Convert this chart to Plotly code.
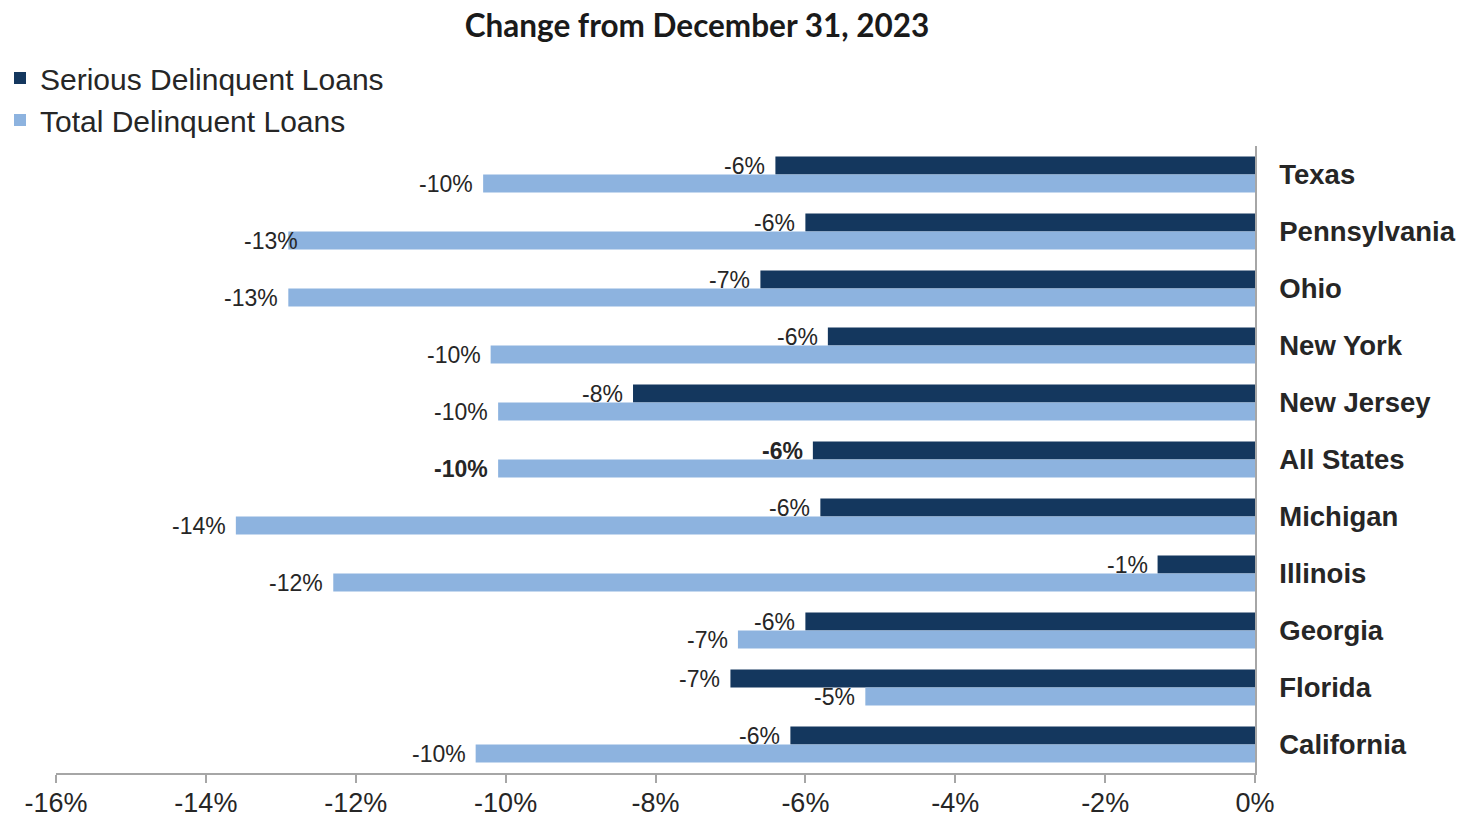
import plotly.graph_objects as go

# Percent change from December 31, 2023, by state
states = ["Texas", "Pennsylvania", "Ohio", "New York", "New Jersey", "All States",
          "Michigan", "Illinois", "Georgia", "Florida", "California"]
serious_delinquent = [-6.4, -6.0, -6.6, -5.7, -8.3, -5.9, -5.8, -1.3, -6.0, -7.0, -6.2]
total_delinquent = [-10.3, -12.9, -12.9, -10.2, -10.1, -10.1, -13.6, -12.3, -6.9, -5.2, -10.4]
x_ticks = [-16, -14, -12, -10, -8, -6, -4, -2, 0]
x_tick_labels = ["-16%", "-14%", "-12%", "-10%", "-8%", "-6%", "-4%", "-2%", "0%"]

DARK = "#14375E"
LIGHT = "#8DB3DF"
TEXT = "#262626"
AXIS = "#A6A6A6"
FONT = "Liberation Sans, Arial, sans-serif"

fig = go.Figure()
fig.add_trace(go.Bar(name="Serious Delinquent Loans", y=states, x=serious_delinquent,
                     orientation="h", marker=dict(color=DARK, line=dict(width=0)),
                     legendgroup="s"))
fig.add_trace(go.Bar(name="Total Delinquent Loans", y=states, x=total_delinquent,
                     orientation="h", marker=dict(color=LIGHT, line=dict(width=0)),
                     legendgroup="t"))

# Value labels just beyond the end of each bar
label_nudge = {("Pennsylvania", 1): 20}
annotations = []
for k, (series, dy) in enumerate([(serious_delinquent, 9), (total_delinquent, -9)]):
    for state, v in zip(states, series):
        txt = f"{round(v):d}%"
        if state == "All States":
            txt = f"<b>{txt}</b>"
        annotations.append(dict(
            x=v, y=state, xref="x", yref="y", text=txt, showarrow=False,
            xanchor="right", yanchor="middle",
            xshift=-8 + label_nudge.get((state, k), 0), yshift=dy,
            font=dict(family=FONT, size=23, color=TEXT)))

fig.update_layout(
    width=1459, height=819,
    margin=dict(l=56, r=204, t=146, b=46, autoexpand=False),
    paper_bgcolor="white", plot_bgcolor="white",
    barmode="group", bargap=0.37, bargroupgap=0,
    title=dict(text="<b>Change from December 31, 2023</b>",
               font=dict(family="Lato, Open Sans, sans-serif", size=31.5, color="#1a1a1a"),
               x=697 / 1459, xanchor="center", xref="container",
               y=1 - 26 / 819, yanchor="middle", yref="container"),
    legend=dict(xref="container", yref="container", x=0.0, y=1 - 52 / 819,
                xanchor="left", yanchor="top", traceorder="normal",
                tracegroupgap=9,
                font=dict(family=FONT, size=30, color=TEXT),
                bgcolor="rgba(0,0,0,0)"),
    xaxis=dict(range=[-16, 0], tickmode="array", tickvals=x_ticks, ticktext=x_tick_labels,
               showgrid=False, zeroline=False, automargin=False,
               showline=True, linecolor=AXIS, linewidth=1.5,
               ticks="outside", ticklen=8, tickcolor=AXIS, tickwidth=1.5,
               ticklabelstandoff=-3,
               tickfont=dict(family=FONT, size=27, color=TEXT)),
    yaxis=dict(side="right", autorange="reversed", showgrid=False, zeroline=False,
               automargin=False,
               showline=True, linecolor=AXIS, linewidth=1.5, ticks="",
               ticklabelstandoff=17,
               tickfont=dict(family=FONT, size=27.5, color=TEXT, weight="bold")),
    annotations=annotations,
    font=dict(family=FONT, color=TEXT),
)

fig.write_html("out.html")
